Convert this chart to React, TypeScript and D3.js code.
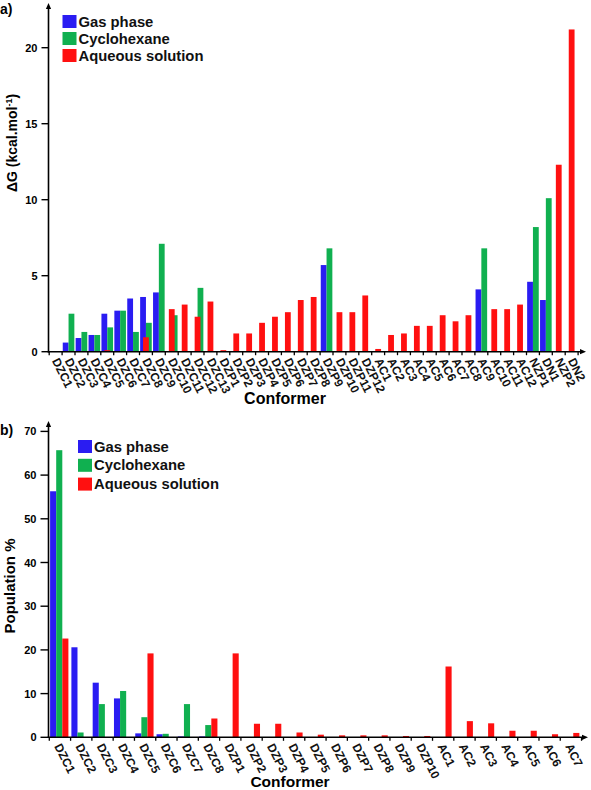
import React from "react";
import * as d3 from "d3";

// ---------- Data: panel a) ----------
const catsA = [
  "DZC1","DZC2","DZC3","DZC4","DZC5","DZC6","DZC7","DZC8","DZC9","DZC10","DZC11","DZC12","DZC13",
  "DZP1","DZP2","DZP3","DZP4","DZP5","DZP6","DZP7","DZP8","DZP9","DZP10","DZP11","DZP12",
  "AC1","AC2","AC3","AC4","AC5","AC6","AC7","AC8","AC9","AC10","AC11","AC12",
  "NZP1","DN1","NZP2","DN2",
];
const gasA = [0,0.6,0.9,1.1,2.5,2.7,3.5,3.6,3.9,0,0,0,0, 0,0,0,0,0,0,0,0,5.7,0,0,0, 0,0,0,0,0,0,0,0,4.1,0,0,0, 4.6,3.4,0,0];
const cycA = [0,2.5,1.3,1.1,1.6,2.7,1.3,1.9,7.1,2.4,0,4.2,0, 0,0,0,0,0,0,0,0,6.8,0,0,0, 0,0,0,0,0,0,0,0,6.8,0,0,0, 8.2,10.1,0,0];
const aqA = [0,0,0,0,0.1,0,0,0.95,0,2.8,3.1,2.3,3.3, 0.1,1.2,1.2,1.9,2.3,2.6,3.4,3.6,0,2.6,2.6,3.7, 0.18,1.1,1.2,1.7,1.7,2.4,2.0,2.4,0,2.8,2.8,3.1, 0,0,12.3,21.2];
const ticksA = [0, 5, 10, 15, 20];

// ---------- Data: panel b) ----------
const catsB = [
  "DZC1","DZC2","DZC3","DZC4","DZC5","DZC6","DZC7","DZC8",
  "DZP1","DZP2","DZP3","DZP4","DZP5","DZP6","DZP7","DZP8","DZP9","DZP10",
  "AC1","AC2","AC3","AC4","AC5","AC6","AC7",
];
const gasB = [56.3,20.6,12.5,8.9,0.9,0.7,0.2,0.2, 0,0,0,0,0,0,0,0,0,0, 0,0,0,0,0,0,0];
const cycB = [65.7,1.1,7.6,10.6,4.6,0.8,7.6,2.8, 0,0,0,0,0,0,0,0,0,0, 0,0,0,0,0,0,0];
const aqB = [22.6,0,0,0,19.2,0,0,4.3, 19.2,3.1,3.1,1.1,0.6,0.45,0.45,0.45,0.3,0.3, 16.2,3.7,3.2,1.5,1.5,0.7,1.0];
const ticksB = [0, 10, 20, 30, 40, 50, 60, 70];

const seriesNames = ["Gas phase", "Cyclohexane", "Aqueous solution"];
const colors = ["#2a1cf2", "#10b050", "#ff1010"];

const FONT = "'Liberation Sans', Arial, Helvetica, sans-serif";

function Arrow({ x1, y1, x2, y2 }: { x1: number; y1: number; x2: number; y2: number }) {
  const ang = Math.atan2(y2 - y1, x2 - x1);
  const L = 6, W = 2.6;
  const bx = x2 - L * Math.cos(ang), by = y2 - L * Math.sin(ang);
  const px = -Math.sin(ang) * W, py = Math.cos(ang) * W;
  return (
    <g>
      <line x1={x1} y1={y1} x2={bx} y2={by} stroke="#000" strokeWidth={1.6} />
      <path d={`M${x2},${y2}L${bx + px},${by + py}L${bx - px},${by - py}Z`} fill="#000" />
    </g>
  );
}

function Legend({ x, y, step, size }: { x: number; y: number; step: number; size: number }) {
  return (
    <g>
      {seriesNames.map((n, i) => (
        <g key={n}>
          <rect x={x} y={y + i * step} width={size + 1} height={size} fill={colors[i]} />
          <text x={x + size + 3} y={y + i * step + size - 1.5} fontFamily={FONT} fontWeight="bold" fontSize={14.8} fill="#111">
            {n}
          </text>
        </g>
      ))}
    </g>
  );
}

const LABEL_SIZE = 12;
const LABEL_ROT = 63;

function PanelA() {
  const x0 = 48.5;
  const xs = d3.scaleBand<string>().domain(catsA).range([49.2, 49.2 + catsA.length * 12.9]).paddingInner(0).paddingOuter(0);
  const y = d3.scaleLinear().domain([0, 20]).range([351.7, 47.7]);
  const w = 5.8;
  const bw = xs.bandwidth();
  const c = (k: string) => (xs(k) as number) + bw / 2;
  const y0 = y(0);
  return (
    <g>
      <text x={0} y={13.5} fontFamily={FONT} fontWeight="bold" fontSize={14}>a)</text>
      {catsA.map((k, i) => (
        <g key={k}>
          {gasA[i] > 0 && <rect x={c(k) - w} y={y(gasA[i])} width={w} height={y0 - y(gasA[i])} fill={colors[0]} />}
          {cycA[i] > 0 && <rect x={c(k)} y={y(cycA[i])} width={w} height={y0 - y(cycA[i])} fill={colors[1]} />}
          {aqA[i] > 0 && <rect x={c(k) - w / 2} y={y(aqA[i])} width={w} height={y0 - y(aqA[i])} fill={colors[2]} />}
        </g>
      ))}
      <Arrow x1={x0} y1={y0 + 0.8} x2={x0} y2={3} />
      <Arrow x1={x0 - 0.8} y1={y0} x2={586} y2={y0} />
      {ticksA.map((t) => (
        <g key={t}>
          <line x1={x0 - 7} x2={x0} y1={y(t)} y2={y(t)} stroke="#000" strokeWidth={1.4} />
          <text x={37.5} y={y(t) + 4} textAnchor="end" fontFamily={FONT} fontWeight="bold" fontSize={11}>{t}</text>
        </g>
      ))}
      {catsA.map((k) => (
        <line key={"t" + k} x1={xs(k)} x2={xs(k)} y1={y0} y2={y0 + 3.5} stroke="#000" strokeWidth={1.3} />
      ))}
      <line x1={xs.range()[1]} x2={xs.range()[1]} y1={y0} y2={y0 + 3.5} stroke="#000" strokeWidth={1.3} />
      {catsA.map((k) => (
        <text
          key={"l" + k}
          transform={`translate(${c(k) - 4},${y0 + 9}) rotate(${LABEL_ROT})`}
          fontFamily={FONT}
          fontWeight="bold"
          fontSize={LABEL_SIZE}
          fill="#111"
        >
          {k}
        </text>
      ))}
      <text x={285} y={404} textAnchor="middle" fontFamily={FONT} fontWeight="bold" fontSize={16}>Conformer</text>
      <text transform="translate(16.5,143) rotate(-90)" textAnchor="middle" fontFamily={FONT} fontWeight="bold" fontSize={14}>
        ΔG (kcal.mol<tspan fontSize={9} dy={-5}>-1</tspan><tspan dy={5}>)</tspan>
      </text>
      <Legend x={62.5} y={15} step={17} size={13} />
    </g>
  );
}

function PanelB() {
  const x0 = 48.5;
  const xs = d3.scaleBand<string>().domain(catsB).range([49.3, 49.3 + catsB.length * 21.29]).paddingInner(0).paddingOuter(0);
  const sub = d3.scaleBand<string>().domain(seriesNames).range([0.8, 19.1]).padding(0);
  const y = d3.scaleLinear().domain([0, 70]).range([737.3, 737.3 - 70 * 4.37]);
  const y0 = y(0);
  const vals = [gasB, cycB, aqB];
  return (
    <g>
      <text x={0} y={435} fontFamily={FONT} fontWeight="bold" fontSize={14}>b)</text>
      {catsB.map((k, i) => (
        <g key={k}>
          {vals.map((arr, s) =>
            arr[i] > 0 ? (
              <rect
                key={s}
                x={(xs(k) as number) + (sub(seriesNames[s]) as number)}
                y={y(arr[i])}
                width={sub.bandwidth()}
                height={y0 - y(arr[i])}
                fill={colors[s]}
              />
            ) : null
          )}
        </g>
      ))}
      <Arrow x1={x0} y1={y0 + 0.8} x2={x0} y2={421} />
      <Arrow x1={x0 - 0.8} y1={y0} x2={588} y2={y0} />
      {ticksB.map((t) => (
        <g key={t}>
          <line x1={x0 - 8} x2={x0} y1={y(t)} y2={y(t)} stroke="#000" strokeWidth={1.4} />
          <text x={36.5} y={y(t) + 4} textAnchor="end" fontFamily={FONT} fontWeight="bold" fontSize={11}>{t}</text>
        </g>
      ))}
      {catsB.map((k) => (
        <line key={"t" + k} x1={xs(k)} x2={xs(k)} y1={y0} y2={y0 + 3.5} stroke="#000" strokeWidth={1.3} />
      ))}
      <line x1={xs.range()[1]} x2={xs.range()[1]} y1={y0} y2={y0 + 3.5} stroke="#000" strokeWidth={1.3} />
      {catsB.map((k) => (
        <text
          key={"l" + k}
          transform={`translate(${(xs(k) as number) + xs.bandwidth() / 2 - 6},${y0 + 9}) rotate(${LABEL_ROT})`}
          fontFamily={FONT}
          fontWeight="bold"
          fontSize={LABEL_SIZE}
          fill="#111"
        >
          {k}
        </text>
      ))}
      <text x={290} y={787} textAnchor="middle" fontFamily={FONT} fontWeight="bold" fontSize={15.5}>Conformer</text>
      <text transform="translate(15,586) rotate(-90)" textAnchor="middle" fontFamily={FONT} fontWeight="bold" fontSize={15}>
        Population %
      </text>
      <Legend x={78} y={440} step={18.8} size={13} />
    </g>
  );
}

export default function App() {
  return (
    <svg
      width={591}
      height={790}
      viewBox="0 0 591 790"
      style={{ position: "absolute", left: 0, top: 0, display: "block", background: "#fff" }}
    >
      <rect width={591} height={790} fill="#fff" />
      <PanelA />
      <PanelB />
    </svg>
  );
}
